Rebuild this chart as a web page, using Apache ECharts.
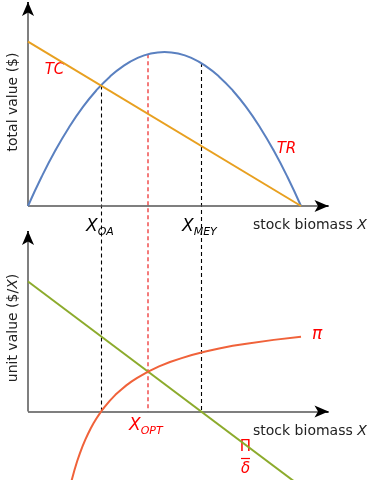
<!DOCTYPE html>
<html><head><meta charset="utf-8">
<script src="https://cdn.jsdelivr.net/npm/echarts@6/dist/echarts.min.js"></script>
<style>html,body{margin:0;padding:0;background:#fff}#c{width:370px;height:480px}</style>
</head><body><div id="c"></div>
<script>
// ---- data (stock biomass X in % of carrying capacity) ----
const stockGrid = [0,5,10,15,20,25,30,35,40,45,50,55,60,65,70,75,80,85,90,95,100];
const totalRevenue = [0,19,36,51,64,75,84,91,96,99,100,99,96,91,84,75,64,51,36,19,0];
const costStock = [0,100];
const totalCost = [106.7,0];
const piStock = [15,16,17,18,19,20,21,22,23,24,25,26,27,28,30,32,34,36,38,40,44,48,52,56,60,65,70,75,80,90,100];
const piValues = [-61.7,-52.9,-45.2,-38.3,-32.2,-26.7,-21.6,-17.1,-12.9,-9.1,-5.6,-2.4,0.6,3.4,8.4,12.8,16.6,20.1,23.2,25.9,30.7,34.7,38.1,40.9,43.5,46.1,48.5,50.5,52.2,55.1,57.5];
const rentStock = [0,100];
const rentValues = [100,-57.7];
const refNames = ['OA','OPT','MEY'];
const refStock = [26.7,44,63.4];
const refTop = [78.3,98.6,92.8];

// ---- layout ----
const L = 28, PXU = 2.73, XMAX = 115;
const T = {axis:206, s:1.54, top:0, bot:420};
const B = {axis:411.5, s:1.3, top:228, bot:480};
const yT = p => (T.axis - p)/T.s;   // pixel -> top units
const yB = p => (B.axis - p)/B.s;   // pixel -> bottom units
const xU = p => (p - L)/PXU;

const FONT = '"DejaVu Sans", sans-serif';
const axisGray = '#555', red = '#ff0000';

function axisMarks(yTip, xTip){
  return [
    [{coord:[0,0], lineStyle:{color:axisGray,width:1.5,type:'solid'}},{coord:[0,yTip]}],
    [{coord:[0,0], lineStyle:{color:axisGray,width:1.5,type:'solid'}},{coord:[xTip,0]}],
    [{coord:[0,yTip-1], lineStyle:{color:'#000',width:1.5,type:'solid'}},{coord:[0,yTip],symbol:'arrow',symbolSize:[9,14]}],
    [{coord:[xTip-1,0], lineStyle:{color:'#000',width:1.5,type:'solid'}},{coord:[xTip,0],symbol:'arrow',symbolSize:[9,14]}]
  ];
}
const dashBottom = yT(B.axis);
const dashMarks = refStock.map((x,i)=>[
  {coord:[x,refTop[i]], lineStyle: refNames[i]==='OPT'
      ? {color:'#f47a7a',width:2,type:[4,3]}
      : {color:'#000',width:1.1,type:[4,3]}},
  {coord:[x,dashBottom]}
]);

const zip = (a,b)=>a.map((v,i)=>[v,b[i]]);
const sub = (name,color,x,y)=>({type:'text',x:x,y:y,style:{text:'{x|X}{s|'+name+'}',align:'left',verticalAlign:'bottom',
  rich:{x:{font:'italic 17px '+FONT,fill:color,padding:[0,0,3,0],verticalAlign:'bottom'},s:{font:'italic 11px '+FONT,fill:color,verticalAlign:'bottom'}}}});
const rich14 = {a:{font:'14px '+FONT,fill:'#222'},i:{font:'italic 14px '+FONT,fill:'#222'}};

const option = {
  animation:false,
  grid:[
    {left:L, top:T.top, width:PXU*XMAX, height:T.bot-T.top},
    {left:L, top:B.top, width:PXU*XMAX, height:B.bot-B.top}
  ],
  xAxis:[
    {type:'value',gridIndex:0,min:0,max:XMAX,show:false},
    {type:'value',gridIndex:1,min:0,max:XMAX,show:false}
  ],
  yAxis:[
    {type:'value',gridIndex:0,min:yT(T.bot),max:yT(T.top),show:false},
    {type:'value',gridIndex:1,min:yB(B.bot),max:yB(B.top),show:false}
  ],
  series:[
    {type:'line',xAxisIndex:0,yAxisIndex:0,data:zip(stockGrid,totalRevenue),smooth:true,showSymbol:false,clip:false,
     lineStyle:{color:'#5a80c0',width:2},z:3,
     markLine:{silent:true,symbol:'none',label:{show:false},data:dashMarks,z:1}},
    {type:'line',xAxisIndex:0,yAxisIndex:0,data:zip(costStock,totalCost),showSymbol:false,clip:false,
     lineStyle:{color:'#e8a020',width:2},z:3,
     markLine:{silent:true,symbol:'none',label:{show:false},data:axisMarks(yT(2),xU(328.5)),z:2}},
    {type:'line',xAxisIndex:1,yAxisIndex:1,data:zip(rentStock,rentValues),showSymbol:false,clip:false,
     lineStyle:{color:'#8cab2c',width:2},z:3,
     markLine:{silent:true,symbol:'none',label:{show:false},data:axisMarks(yB(231),xU(328.5)),z:2}},
    {type:'line',xAxisIndex:1,yAxisIndex:1,data:zip(piStock,piValues),smooth:false,showSymbol:false,clip:false,
     lineStyle:{color:'#f0623a',width:2,join:'round'},z:3}
  ],
  graphic:[
    {type:'text',x:13.5,y:102,rotation:Math.PI/2,style:{text:'total value ($)',font:'14px '+FONT,fill:'#222',align:'center',verticalAlign:'middle'}},
    {type:'text',x:13.5,y:328,rotation:Math.PI/2,style:{text:'{a|unit value ($/}{i|X}{a|)}',align:'center',verticalAlign:'middle',rich:rich14}},
    {type:'text',x:253,y:225,style:{text:'{a|stock biomass }{i|X}',align:'left',verticalAlign:'middle',rich:rich14}},
    {type:'text',x:253,y:431,style:{text:'{a|stock biomass }{i|X}',align:'left',verticalAlign:'middle',rich:rich14}},
    {type:'text',x:54.5,y:70.5,style:{text:'TC',font:'italic 15px '+FONT,fill:red,align:'center',verticalAlign:'middle'}},
    {type:'text',x:286.5,y:149,style:{text:'TR',font:'italic 15px '+FONT,fill:red,align:'center',verticalAlign:'middle'}},
    {type:'text',x:317,y:335,style:{text:'π',font:'italic 17px '+FONT,fill:red,align:'center',verticalAlign:'middle'}},
    {type:'text',x:245.5,y:447,style:{text:'Π',font:'15px '+FONT,fill:red,align:'center',verticalAlign:'middle'}},
    {type:'line',shape:{x1:241,y1:458.5,x2:250,y2:458.5},style:{stroke:red,lineWidth:1.2}},
    {type:'text',x:245.5,y:469.5,style:{text:'δ',font:'italic 15px '+FONT,fill:red,align:'center',verticalAlign:'middle'}},
    sub('OA','#000',86,238),
    sub('MEY','#000',182,238),
    sub('OPT',red,129,437)
  ]
};
const chart = echarts.init(document.getElementById('c'),null,{renderer:'canvas'});
chart.setOption(option);
</script></body></html>
